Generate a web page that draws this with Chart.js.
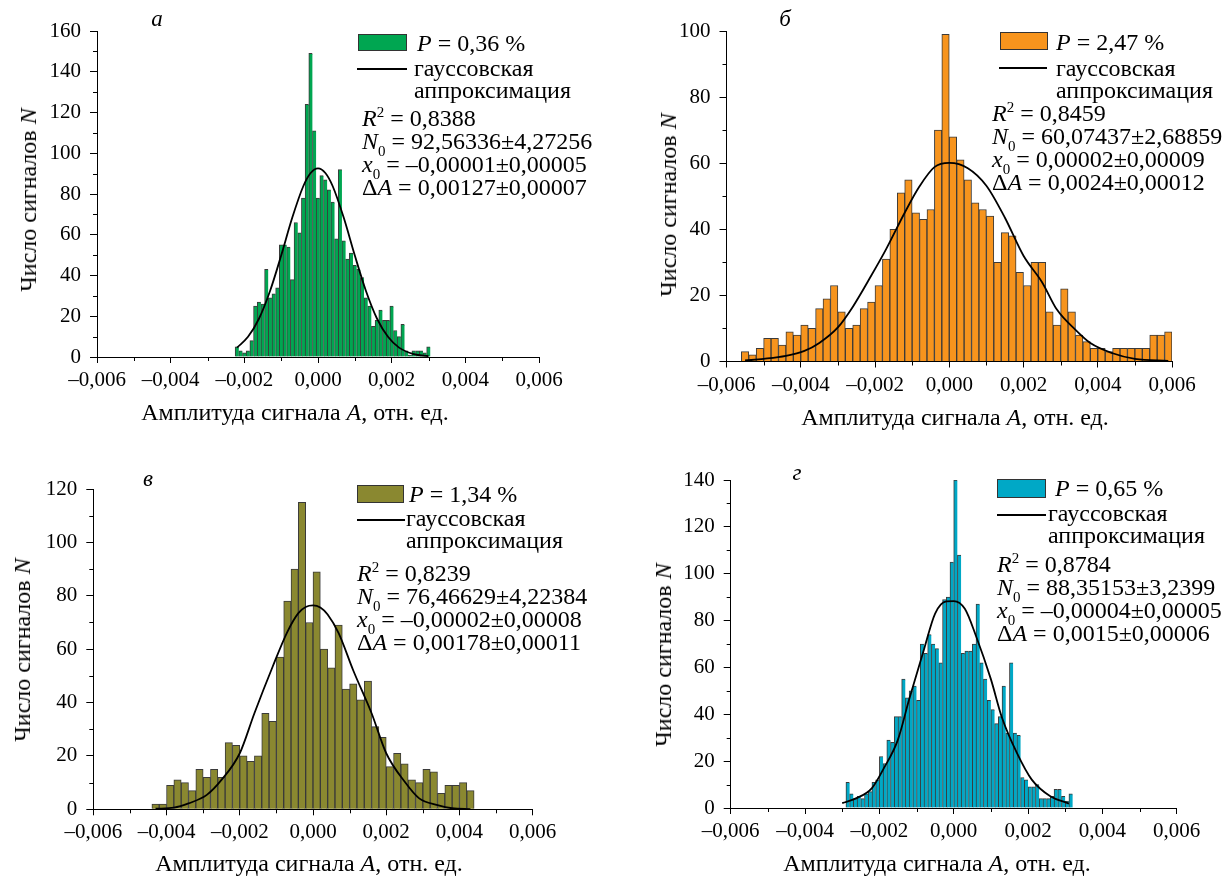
<!DOCTYPE html>
<html><head><meta charset="utf-8">
<script src="https://cdn.jsdelivr.net/npm/chart.js@4.4.1/dist/chart.umd.min.js"></script>
<style>
html,body{margin:0;padding:0;background:#fff;}
body{width:1230px;height:881px;position:relative;overflow:hidden;font-family:"Liberation Serif","DejaVu Serif",serif;color:#000;}
canvas{position:absolute;left:0;top:0;}
.t{position:absolute;white-space:nowrap;font-size:24px;line-height:24px;}
.ax{position:absolute;white-space:nowrap;font-size:24px;line-height:24px;transform:translate(-50%,-50%);}
.ay{position:absolute;white-space:nowrap;font-size:24px;line-height:24px;transform:translate(-50%,-50%) rotate(-90deg);}
.lt{position:absolute;font-size:23px;line-height:23px;font-style:italic;transform:translate(-50%,-50%);}
.box{position:absolute;border:1px solid #333;box-sizing:border-box;}
.ln{position:absolute;height:2px;background:#000;}
sub{font-size:15px;vertical-align:-7px;line-height:0;}
sup{font-size:15px;vertical-align:9px;line-height:0;}
</style></head>
<body>
<canvas id="ca" width="1230" height="881"></canvas>
<canvas id="cb" width="1230" height="881"></canvas>
<canvas id="cc" width="1230" height="881"></canvas>
<canvas id="cd" width="1230" height="881"></canvas>

<!-- panel a -->
<div class="lt" style="left:157px;top:18px;">а</div>
<div class="box" style="left:358px;top:34px;width:49px;height:17px;background:#00a651;"></div>
<div class="t" style="left:417px;top:31px;"><i>P</i> = 0,36 %</div>
<div class="ln" style="left:357px;top:68px;width:50px;"></div>
<div class="t" style="left:414px;top:56px;">гауссовская</div>
<div class="t" style="left:414px;top:78px;">аппроксимация</div>
<div class="t" style="left:362px;top:106px;"><i>R</i><sup>2</sup> = 0,8388</div>
<div class="t" style="left:362px;top:129px;"><i>N</i><sub>0</sub> = 92,56336±4,27256</div>
<div class="t" style="left:362px;top:152px;"><i>x</i><sub>0</sub> = –0,00001±0,00005</div>
<div class="t" style="left:362px;top:175px;">Δ<i>A</i> = 0,00127±0,00007</div>
<div class="ax" style="left:295px;top:412px;">Амплитуда сигнала <i>A</i>, отн. ед.</div>
<div class="ay" style="left:28px;top:200px;">Число сигналов <i>N</i></div>

<!-- panel b -->
<div class="lt" style="left:785px;top:18px;">б</div>
<div class="box" style="left:1000px;top:32px;width:48px;height:18px;background:#f7941d;"></div>
<div class="t" style="left:1056px;top:30px;"><i>P</i> = 2,47 %</div>
<div class="ln" style="left:999px;top:67px;width:48px;"></div>
<div class="t" style="left:1056px;top:56px;">гауссовская</div>
<div class="t" style="left:1056px;top:78px;">аппроксимация</div>
<div class="t" style="left:992px;top:101px;"><i>R</i><sup>2</sup> = 0,8459</div>
<div class="t" style="left:992px;top:124px;"><i>N</i><sub>0</sub> = 60,07437±2,68859</div>
<div class="t" style="left:992px;top:147px;"><i>x</i><sub>0</sub> = 0,00002±0,00009</div>
<div class="t" style="left:992px;top:170px;">Δ<i>A</i> = 0,0024±0,00012</div>
<div class="ax" style="left:955px;top:417px;">Амплитуда сигнала <i>A</i>, отн. ед.</div>
<div class="ay" style="left:668px;top:205px;">Число сигналов <i>N</i></div>

<!-- panel c -->
<div class="lt" style="left:148px;top:478px;">в</div>
<div class="box" style="left:357px;top:485px;width:47px;height:18px;background:#8a8830;"></div>
<div class="t" style="left:409px;top:482px;"><i>P</i> = 1,34 %</div>
<div class="ln" style="left:357px;top:519px;width:48px;"></div>
<div class="t" style="left:406px;top:506px;">гауссовская</div>
<div class="t" style="left:406px;top:528px;">аппроксимация</div>
<div class="t" style="left:357px;top:561px;"><i>R</i><sup>2</sup> = 0,8239</div>
<div class="t" style="left:357px;top:584px;"><i>N</i><sub>0</sub> = 76,46629±4,22384</div>
<div class="t" style="left:357px;top:607px;"><i>x</i><sub>0</sub> = –0,00002±0,00008</div>
<div class="t" style="left:357px;top:630px;">Δ<i>A</i> = 0,00178±0,00011</div>
<div class="ax" style="left:309px;top:863px;">Амплитуда сигнала <i>A</i>, отн. ед.</div>
<div class="ay" style="left:22px;top:650px;">Число сигналов <i>N</i></div>

<!-- panel d -->
<div class="lt" style="left:797px;top:472px;">г</div>
<div class="box" style="left:997px;top:479px;width:49px;height:19px;background:#00a8c6;"></div>
<div class="t" style="left:1055px;top:476px;"><i>P</i> = 0,65 %</div>
<div class="ln" style="left:997px;top:514px;width:49px;"></div>
<div class="t" style="left:1048px;top:501px;">гауссовская</div>
<div class="t" style="left:1048px;top:523px;">аппроксимация</div>
<div class="t" style="left:997px;top:552px;"><i>R</i><sup>2</sup> = 0,8784</div>
<div class="t" style="left:997px;top:575px;"><i>N</i><sub>0</sub> = 88,35153±3,2399</div>
<div class="t" style="left:997px;top:598px;"><i>x</i><sub>0</sub> = –0,00004±0,00005</div>
<div class="t" style="left:997px;top:621px;">Δ<i>A</i> = 0,0015±0,00006</div>
<div class="ax" style="left:937px;top:863px;">Амплитуда сигнала <i>A</i>, отн. ед.</div>
<div class="ay" style="left:663px;top:655px;">Число сигналов <i>N</i></div>

<script>
// ---------- data ----------
const xTickMin = -0.006, xTickMax = 0.006, xTickStep = 0.002;

// panel а
const aCenters = [-0.0022,-0.0021,-0.0020,-0.0019,-0.0018,-0.0017,-0.0016,-0.0015,-0.0014,-0.0013,-0.0012,-0.0011,-0.0010,-0.0009,-0.0008,-0.0007,-0.0006,-0.0005,-0.0004,-0.0003,-0.0002,-0.0001,0,0.0001,0.0002,0.0003,0.0004,0.0005,0.0006,0.0007,0.0008,0.0009,0.0010,0.0011,0.0012,0.0013,0.0014,0.0015,0.0016,0.0017,0.0018,0.0019,0.0020,0.0021,0.0022,0.0023,0.0024,0.0025,0.0026,0.0027,0.0028,0.0029,0.0030];
const aCounts = [5,3,2,3,8,25,27,26,43,29,31,34,55,55,54,38,66,61,78,124,149,111,78,89,87,82,76,58,92,57,48,51,45,43,39,29,25,15,18,23,18,18,25,13,10,16,3,1,3,3,3,2,5];
const aFitX = [-0.0022,-0.0019,-0.0016,-0.0013,-0.0010,-0.0007,-0.0004,-0.0002,0,0.0002,0.0004,0.0007,0.0010,0.0013,0.0016,0.0019,0.0022,0.0026,0.0030];
const aFitY = [4.6,9.9,18.9,32.5,49.8,68.3,83.8,90.3,92.6,90.3,83.8,68.3,49.8,32.5,18.9,9.9,4.6,1.4,0.4];
const aYMax = 160;

// panel б
const bCenters = [-0.0055,-0.0053,-0.0051,-0.0049,-0.0047,-0.0045,-0.0043,-0.0041,-0.0039,-0.0037,-0.0035,-0.0033,-0.0031,-0.0029,-0.0027,-0.0025,-0.0023,-0.0021,-0.0019,-0.0017,-0.0015,-0.0013,-0.0011,-0.0009,-0.0007,-0.0005,-0.0003,-0.0001,0.0001,0.0003,0.0005,0.0007,0.0009,0.0011,0.0013,0.0015,0.0017,0.0019,0.0021,0.0023,0.0025,0.0027,0.0029,0.0031,0.0033,0.0035,0.0037,0.0039,0.0041,0.0043,0.0045,0.0047,0.0049,0.0051,0.0053,0.0055,0.0057,0.0059];
const bCounts = [3,2,4,7,7,5,9,8,11,10,16,19,23,15,10,11,16,18,23,31,40,51,55,45,43,46,70,99,68,61,55,48,46,44,30,39,38,27,23,30,30,15,11,22,15,8,6,4,4,3,4,4,4,4,4,8,8,9];
const bFitX = [-0.0055,-0.0050,-0.0044,-0.0039,-0.0035,-0.0030,-0.0026,-0.0021,-0.0017,-0.0012,-0.0008,-0.0004,0,0.0005,0.0010,0.0015,0.0020,0.0025,0.0029,0.0034,0.0038,0.0044,0.0050,0.0059];
const bFitY = [0.3,0.8,1.7,3.2,5.6,10.3,16.5,26,34,45,53,58.8,60.1,58.5,53.2,43.5,32,24,15.7,9.6,5.6,2.5,0.8,0.2];
const bYMax = 100;

// panel в
const cCenters = [-0.0043,-0.0041,-0.0039,-0.0037,-0.0035,-0.0033,-0.0031,-0.0029,-0.0027,-0.0025,-0.0023,-0.0021,-0.0019,-0.0017,-0.0015,-0.0013,-0.0011,-0.0009,-0.0007,-0.0005,-0.0003,-0.0001,0.0001,0.0003,0.0005,0.0007,0.0009,0.0011,0.0013,0.0015,0.0017,0.0019,0.0021,0.0023,0.0025,0.0027,0.0029,0.0031,0.0033,0.0035,0.0037,0.0039,0.0041,0.0043];
const cCounts = [2,2,9,11,10,7,15,12,15,12,25,24,20,18,20,36,33,57,78,90,115,70,89,60,53,69,45,47,41,48,31,27,16,21,17,11,10,15,14,6,9,9,10,7];
const cFitX = [-0.0043,-0.0038,-0.0034,-0.0029,-0.0025,-0.0020,-0.0016,-0.0011,-0.0007,-0.0004,-0.0002,0,0.0002,0.0004,0.0007,0.0011,0.0016,0.0020,0.0025,0.0029,0.0034,0.0038,0.0043];
const cFitY = [0.2,0.6,2.2,5.4,11,21,36,53.5,66.5,73.5,75.8,76.4,75.6,73,66,52,36,21,10.4,4.1,1.6,0.4,0.1];
const cYMax = 120;

// panel г
const dCenters = [-0.00285,-0.00275,-0.00265,-0.00255,-0.00245,-0.00235,-0.00225,-0.00215,-0.00205,-0.00195,-0.00185,-0.00175,-0.00165,-0.00155,-0.00145,-0.00135,-0.00125,-0.00115,-0.00105,-0.00095,-0.00085,-0.00075,-0.00065,-0.00055,-0.00045,-0.00035,-0.00025,-0.00015,-0.00005,0.00005,0.00015,0.00025,0.00035,0.00045,0.00055,0.00065,0.00075,0.00085,0.00095,0.00105,0.00115,0.00125,0.00135,0.00145,0.00155,0.00165,0.00175,0.00185,0.00195,0.00205,0.00215,0.00225,0.00235,0.00245,0.00255,0.00265,0.00275,0.00285,0.00295,0.00305,0.00315];
const dCounts = [11,6,4,5,4,6,7,11,12,22,19,29,28,39,39,55,47,50,52,46,70,66,74,70,68,62,89,90,105,140,108,66,67,67,70,87,62,55,46,42,36,39,52,32,62,32,31,13,12,9,9,10,4,4,4,5,8,8,5,3,6];
const dFitX = [-0.0030,-0.0026,-0.0022,-0.0019,-0.0015,-0.0012,-0.0008,-0.0005,-0.0002,0,0.0003,0.0006,0.0010,0.0013,0.0017,0.0021,0.0026,0.0031];
const dFitY = [2.1,4.3,8.5,16.4,29.2,46.3,67.7,83,88.2,88.3,85,73.4,55,38.5,23.5,12.1,5,1.9];
const dYMax = 140;

// ---------- drawing ----------
const FONT = "'Liberation Serif','DejaVu Serif',serif";
const W = 1230, H = 881, YW = 50, XH = 40;

function fmtX(v){
  const s = Math.abs(v).toFixed(3).replace('.', ',');
  return (v < -1e-9 ? '\u2013' : '') + s;
}

const minorTicks = {
  id: 'minorTicks',
  afterDraw(chart){
    const ctx = chart.ctx, xs = chart.scales.x, ys = chart.scales.y;
    ctx.save();
    ctx.strokeStyle = '#000'; ctx.lineWidth = 1;
    const xv = xs.ticks.map(t => t.value);
    for (let i = 0; i < xv.length - 1; i++){
      const p = Math.round(xs.getPixelForValue((xv[i] + xv[i+1]) / 2)) + 0.5;
      ctx.beginPath(); ctx.moveTo(p, xs.top); ctx.lineTo(p, xs.top + 4); ctx.stroke();
    }
    const yv = ys.ticks.map(t => t.value);
    for (let i = 0; i < yv.length - 1; i++){
      const p = Math.round(ys.getPixelForValue((yv[i] + yv[i+1]) / 2)) + 0.5;
      ctx.beginPath(); ctx.moveTo(ys.right, p); ctx.lineTo(ys.right - 4, p); ctx.stroke();
    }
    ctx.restore();
  }
};

function makePanel(id, centers, counts, fitX, fitY, yMax, color, box, bw){
  const bars = centers.map((c, i) => ({x: c, y: counts[i]}));
  const fit = fitX.map((x, i) => ({x: x, y: fitY[i]}));
  new Chart(document.getElementById(id), {
    type: 'bar',
    data: { datasets: [
      { type: 'line', data: fit, borderColor: '#000', borderWidth: 1.8, pointRadius: 0,
        cubicInterpolationMode: 'monotone', fill: false, order: 0 },
      { type: 'bar', data: bars, backgroundColor: color, borderColor: '#3a3a3a',
        borderWidth: bw, borderSkipped: false, barPercentage: 1, categoryPercentage: 1, order: 1 }
    ]},
    options: {
      responsive: false, animation: false, devicePixelRatio: 1,
      layout: { padding: { left: box.l - YW, top: box.t, right: W - box.r, bottom: H - box.b - XH } },
      plugins: { legend: { display: false }, tooltip: { enabled: false } },
      scales: {
        x: { type: 'linear', min: xTickMin, max: xTickMax, offset: false,
             grid: { offset: false, drawOnChartArea: false, tickLength: 6, color: '#000' },
             border: { color: '#000', width: 1 },
             ticks: { stepSize: xTickStep, callback: fmtX, autoSkip: false, maxRotation: 0,
                      font: { family: FONT, size: 21 }, color: '#000', padding: 5 },
             afterFit(s){ s.height = XH; } },
        y: { type: 'linear', min: 0, max: yMax,
             grid: { drawOnChartArea: false, tickLength: 7, color: '#000' },
             border: { color: '#000', width: 1 },
             ticks: { stepSize: 20, font: { family: FONT, size: 21 }, color: '#000', padding: 9 },
             afterFit(s){ s.width = YW; } }
      }
    },
    plugins: [minorTicks]
  });
}

const thin = {top: 1, left: 1, right: 0, bottom: 0};
const wide = {top: 1, left: 1, right: 1, bottom: 0};
makePanel('ca', aCenters, aCounts, aFitX, aFitY, aYMax, '#00a651', {l: 97, t: 31, r: 539, b: 357}, thin);
makePanel('cb', bCenters, bCounts, bFitX, bFitY, bYMax, '#f7941d', {l: 726.5, t: 31, r: 1172, b: 361.5}, wide);
makePanel('cc', cCenters, cCounts, cFitX, cFitY, cYMax, '#8a8830', {l: 93.3, t: 489, r: 532.7, b: 809.3}, wide);
makePanel('cd', dCenters, dCounts, dFitX, dFitY, dYMax, '#00a8c6', {l: 730.7, t: 480, r: 1176.7, b: 808}, thin);
</script>
</body></html>
